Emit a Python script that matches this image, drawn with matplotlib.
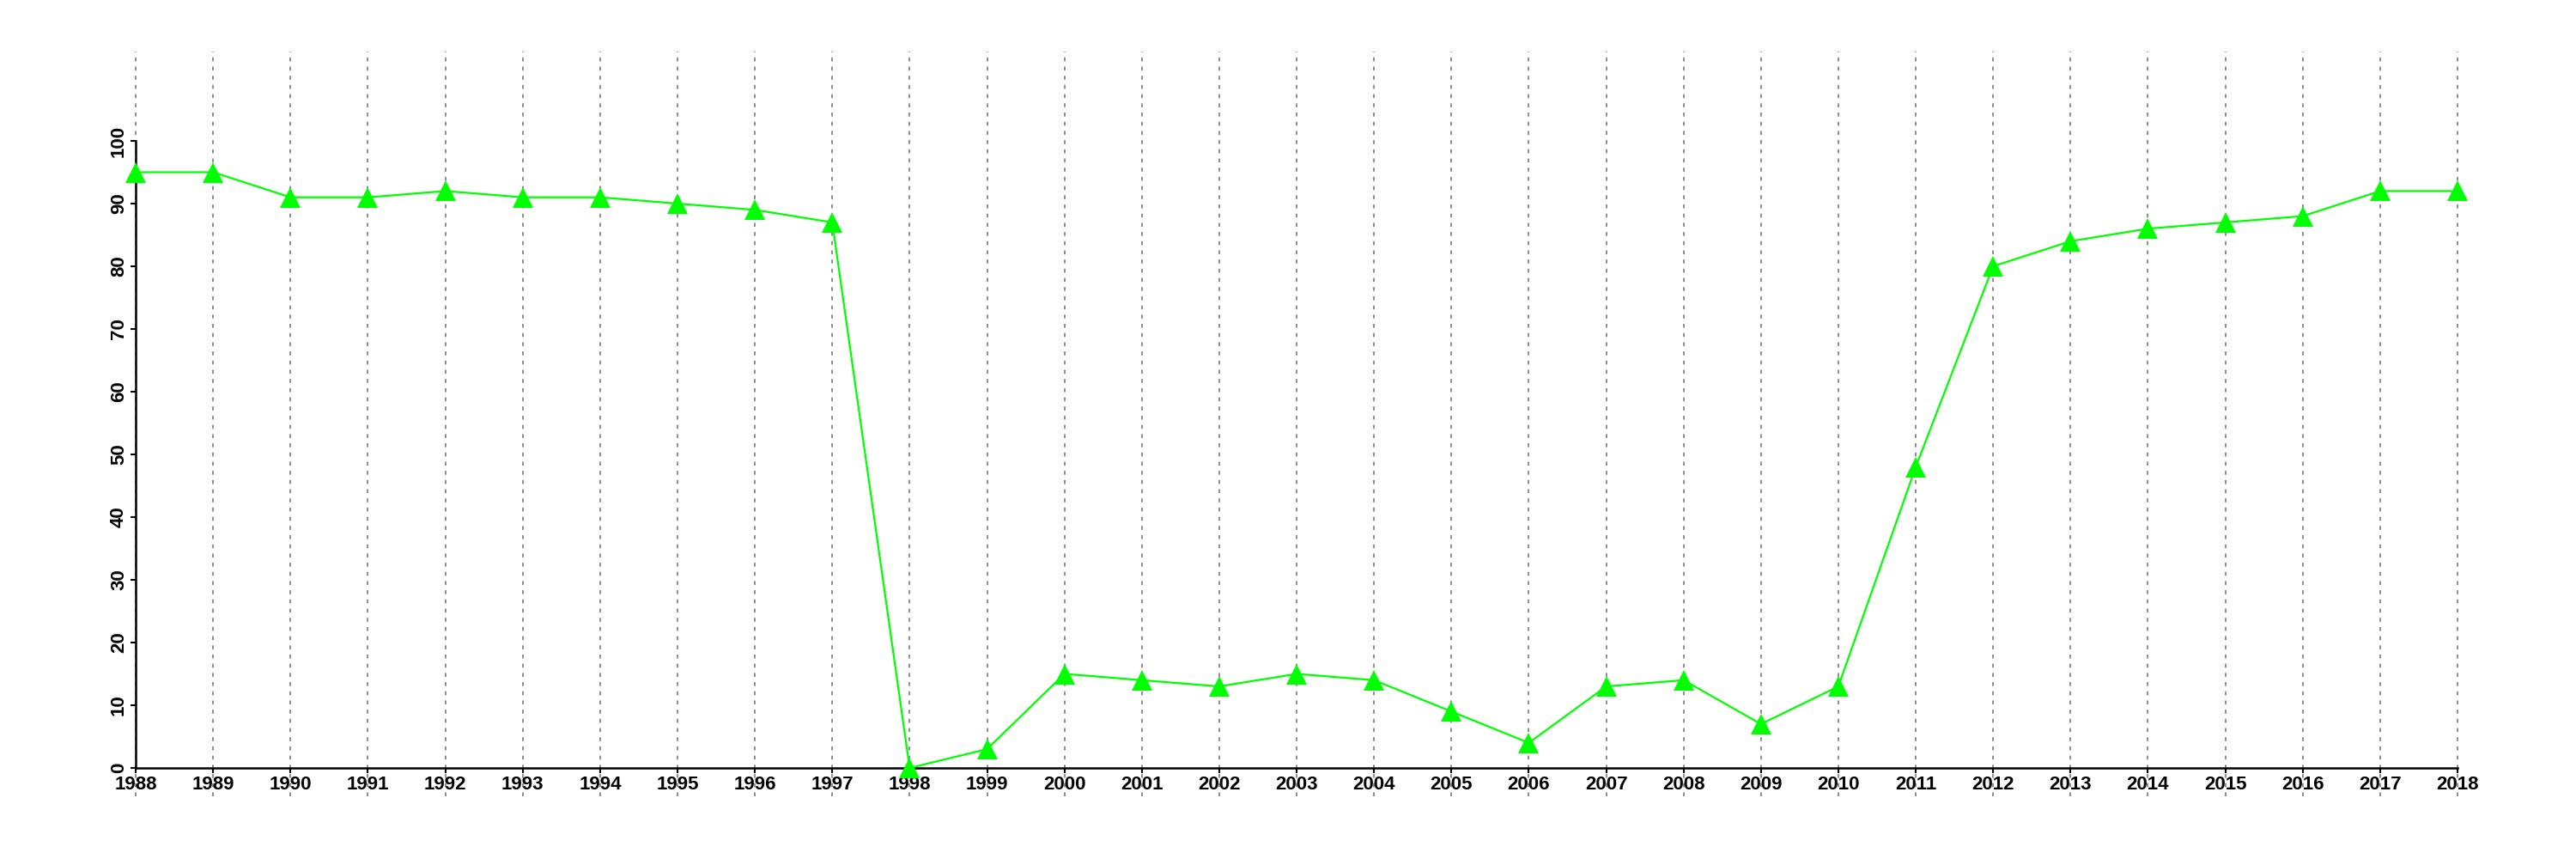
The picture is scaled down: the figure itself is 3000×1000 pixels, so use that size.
import numpy as np
import matplotlib
matplotlib.use("Agg")
import matplotlib.pyplot as plt

# Werte pro Jahr
jahre = list(range(1988, 2019))
werte = [95, 95, 91, 91, 92, 91, 91, 90, 89, 87,
         0, 3, 15, 14, 13, 15, 14, 9, 4, 13,
         14, 7, 13, 48, 80, 84, 86, 87, 88, 92, 92]
y_ticks = [0, 10, 20, 30, 40, 50, 60, 70, 80, 90, 100]


def main():
    plt.rcParams["font.family"] = ["Liberation Sans", "DejaVu Sans"]

    fig = plt.figure(figsize=(30, 10), dpi=100)
    ax = fig.add_axes([0.0527, 0.106, 0.954 - 0.0527, 0.836 - 0.106])

    # gestrichelte senkrechte Linien, gehen ueber die Achse hinaus
    ax.vlines(jahre, -4.5, 114.2, colors="#707070", linewidth=1.1,
              linestyles=(0, (3, 4)), clip_on=False, zorder=1)

    ax.plot(jahre, werte, color="#00ff00", linewidth=1.6, marker="^",
            markersize=17, markeredgewidth=0, clip_on=False, zorder=3)

    ax.set_xlim(1988, 2018)
    ax.set_ylim(0, 100)

    ax.spines["top"].set_visible(False)
    ax.spines["right"].set_visible(False)
    for s in ("left", "bottom"):
        ax.spines[s].set_linewidth(1.8)
        ax.spines[s].set_zorder(2)

    ax.set_xticks(jahre)
    ax.set_xticklabels([str(j) for j in jahre], fontsize=16, fontweight="bold")
    ax.set_yticks(y_ticks)
    ax.set_yticklabels([str(v) for v in y_ticks], fontsize=16, fontweight="bold",
                       rotation=90, va="center")
    ax.tick_params(axis="both", direction="out", length=4.5, width=1.5, pad=2)

    fig.savefig("out.png", dpi=100)


if __name__ == "__main__":
    main()
